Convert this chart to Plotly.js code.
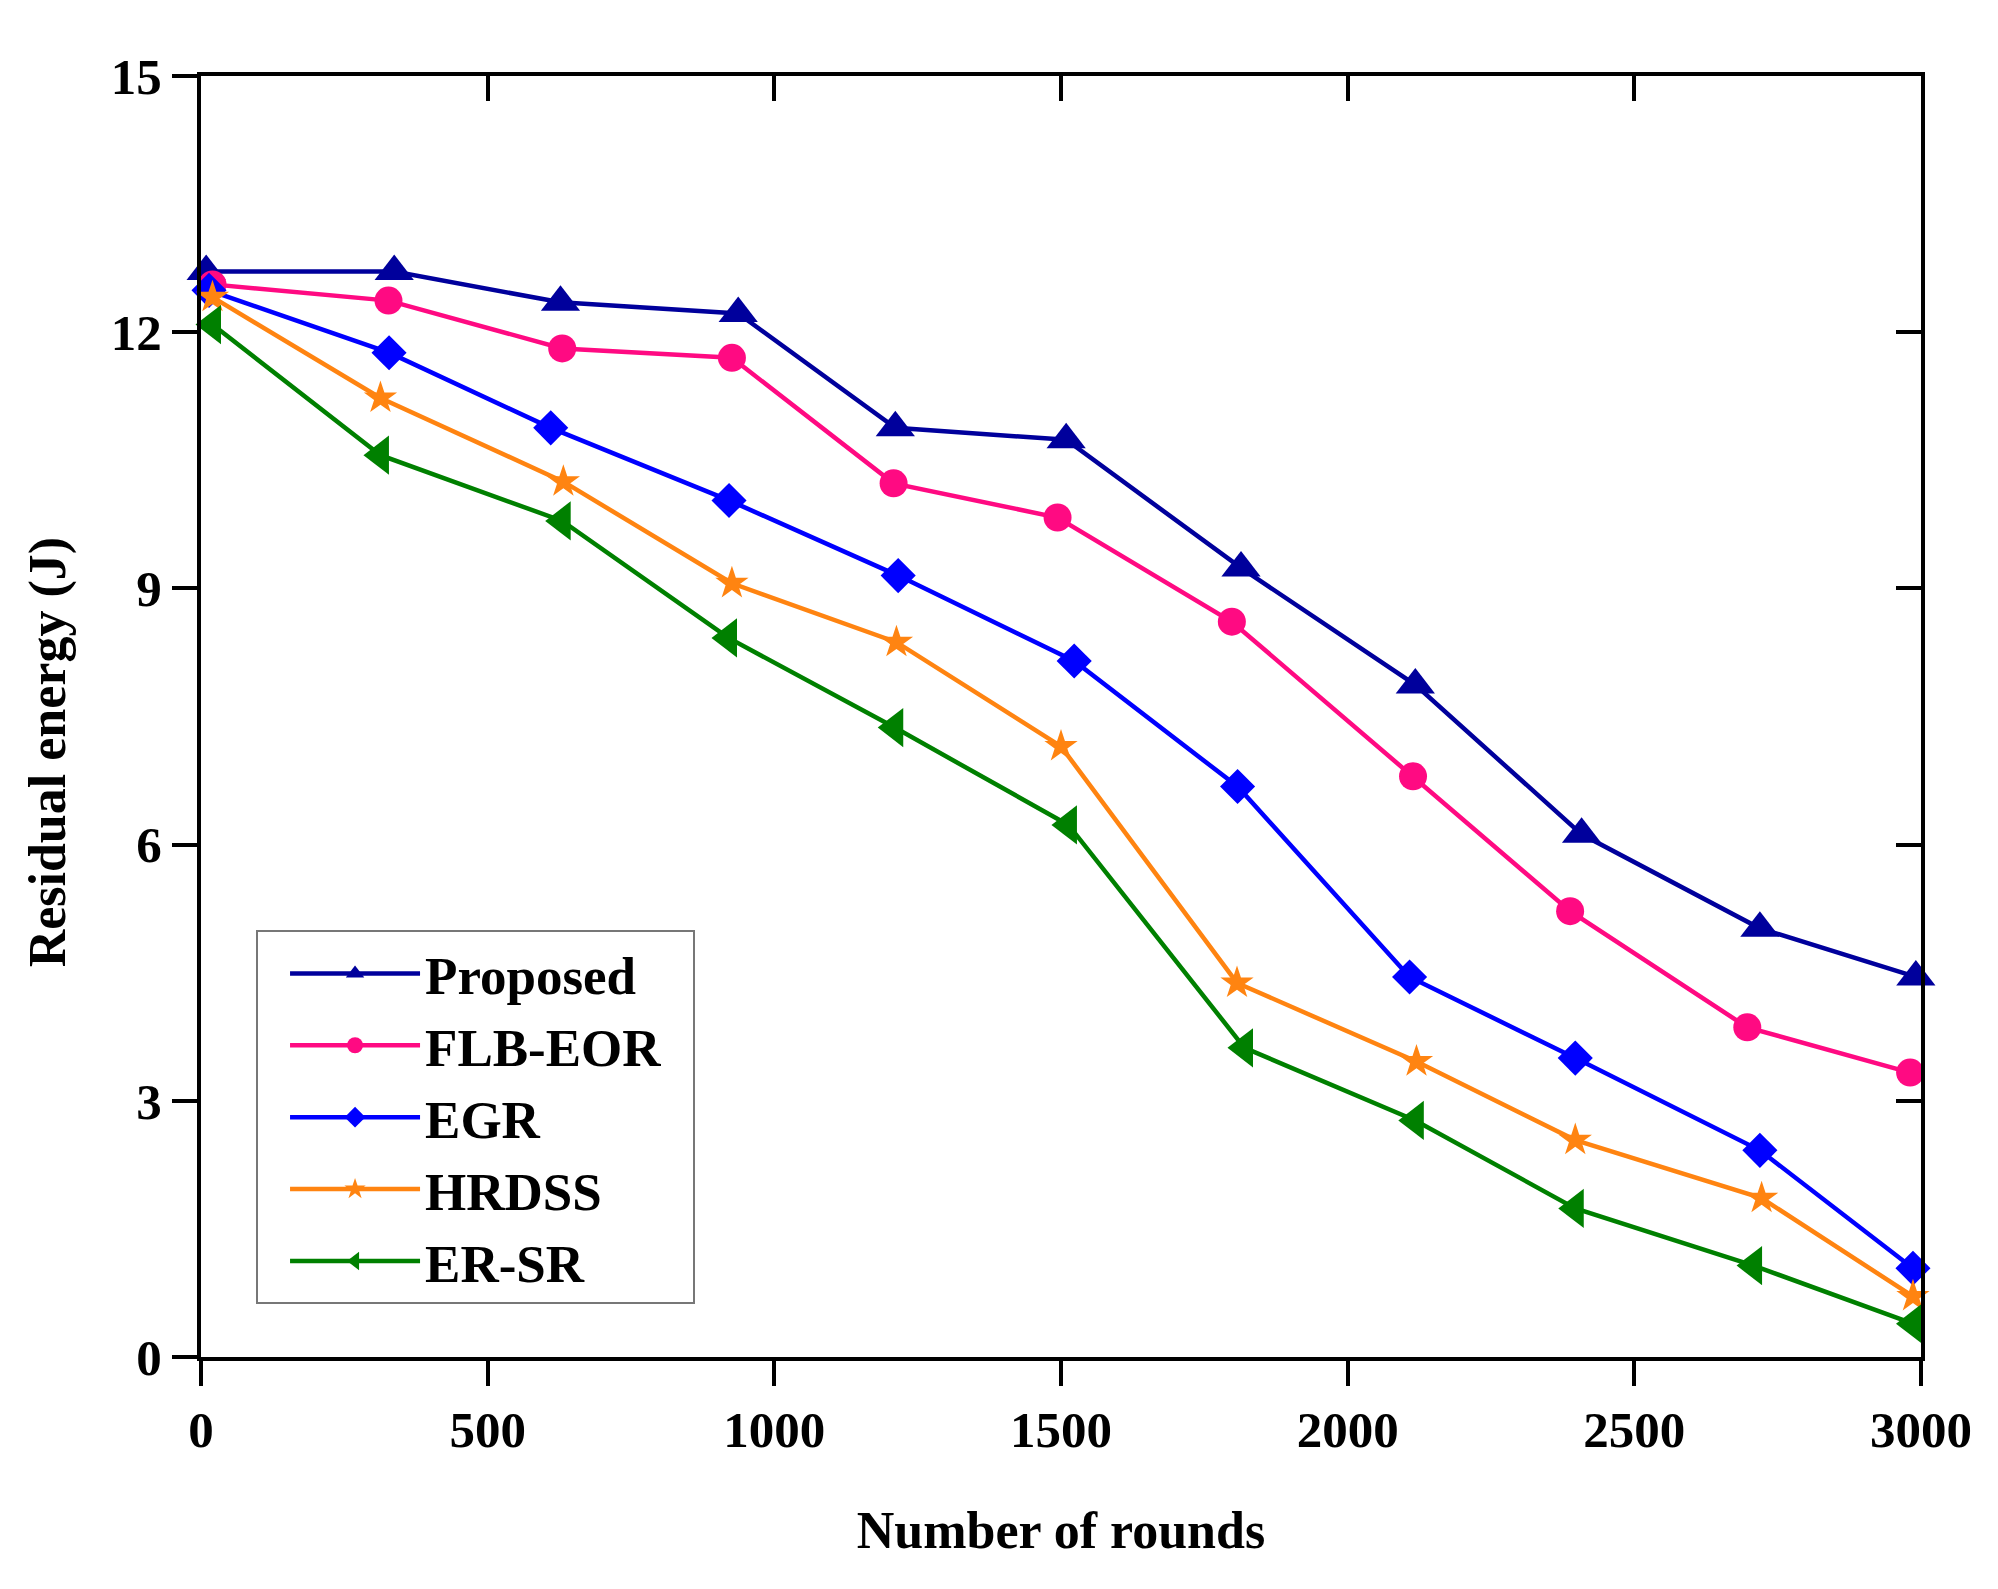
<!DOCTYPE html>
<html>
<head>
<meta charset="utf-8">
<script src="https://cdn.plot.ly/plotly-3.0.1.min.js"></script>
<style>html,body{margin:0;padding:0;background:#fff;}#chart{width:1998px;height:1589px;}</style>
</head>
<body>
<div id="chart"></div>
<script>
// Data
const seriesNames = ["Proposed", "FLB-EOR", "EGR", "HRDSS", "ER-SR"];

const proposedX = [9, 337, 627, 937, 1211, 1509, 1814, 2118, 2408, 2719, 2991];
const proposedY = [12.71, 12.71, 12.35, 12.22, 10.88, 10.74, 9.24, 7.87, 6.12, 5.02, 4.45];

const flbX = [20, 327, 630, 926, 1208, 1494, 1798, 2114, 2388, 2697, 2981];
const flbY = [12.56, 12.37, 11.81, 11.70, 10.23, 9.83, 8.61, 6.80, 5.22, 3.86, 3.33];

const egrX = [14, 328, 610, 921, 1216, 1523, 1808, 2108, 2397, 2719, 2986];
const egrY = [12.49, 11.76, 10.88, 10.03, 9.15, 8.15, 6.68, 4.45, 3.50, 2.42, 1.04];

const hrdssX = [20, 313, 632, 926, 1213, 1500, 1807, 2120, 2397, 2722, 2986];
const hrdssY = [12.41, 11.23, 10.25, 9.06, 8.37, 7.15, 4.38, 3.46, 2.54, 1.86, 0.71];

const ersrX = [20, 313, 630, 920, 1210, 1513, 1820, 2118, 2397, 2708, 2986];
const ersrY = [12.09, 10.56, 9.79, 8.42, 7.37, 6.23, 3.62, 2.77, 1.74, 1.07, 0.39];

const xTickVals = [0, 500, 1000, 1500, 2000, 2500, 3000];
const yTickVals = [0, 3, 6, 9, 12, 15];

const colors = ["#00009C", "#FF0A82", "#0000FF", "#FF8411", "#008000"];
const symbols = ["triangle-up", "circle", "diamond", "star", "triangle-left"];
const sizes = [34, 28, 27, 25, 34];

const xs = [proposedX, flbX, egrX, hrdssX, ersrX];
const ys = [proposedY, flbY, egrY, hrdssY, ersrY];

const FONT = "Liberation Serif, Times New Roman, serif";

const traces = seriesNames.map((n, i) => ({
  type: "scatter",
  mode: "lines+markers",
  name: n + "\u00a0\u00a0",
  x: xs[i],
  y: ys[i],
  cliponaxis: false,
  line: {color: colors[i], width: 4.5},
  marker: {symbol: symbols[i], size: sizes[i], color: colors[i], line: {width: 0}}
}));

// empty traces to register the frame axes (top/right)
traces.push({type: "scatter", x: [], y: [], xaxis: "x2", yaxis: "y", showlegend: false, hoverinfo: "skip"});
traces.push({type: "scatter", x: [], y: [], xaxis: "x", yaxis: "y2", showlegend: false, hoverinfo: "skip"});

const axisCommon = {
  showgrid: false, zeroline: false, showline: true,
  linecolor: "#000", linewidth: 4,
  tickcolor: "#000", tickwidth: 4, ticklen: 25,
  tickfont: {family: FONT, size: 51, color: "#000", weight: "bold"}
};

const layout = {
  width: 1998, height: 1589,
  paper_bgcolor: "#fff", plot_bgcolor: "rgba(0,0,0,0)",
  margin: {l: 201, r: 77, t: 76, b: 232},
  font: {family: FONT, color: "#000"},
  showlegend: true,
  legend: {
    x: 0.032, y: 0.333, xanchor: "left", yanchor: "top",
    bgcolor: "#fff", bordercolor: "#777", borderwidth: 2,
    font: {family: FONT, size: 53, color: "#000", weight: "bold"},
    itemwidth: 130, indentation: 27, tracegroupgap: 0
  },
  xaxis: Object.assign({}, axisCommon, {
    range: [0, 3000], tickvals: xTickVals, ticktext: xTickVals.map(String),
    ticks: "outside", anchor: "y",
    title: {text: "<b>Number of rounds</b>", font: {family: FONT, size: 52, color: "#000"}, standoff: 55}
  }),
  yaxis: Object.assign({}, axisCommon, {
    range: [0, 15], tickvals: yTickVals, ticktext: yTickVals.map(String),
    ticks: "outside", anchor: "x"
  }),
  xaxis2: Object.assign({}, axisCommon, {
    range: [0, 3000], tickvals: xTickVals, ticks: "inside", showticklabels: false,
    overlaying: "x", side: "top", anchor: "y", layer: "above traces"
  }),
  yaxis2: Object.assign({}, axisCommon, {
    range: [0, 15], tickvals: yTickVals, ticks: "inside", showticklabels: false,
    overlaying: "y", side: "right", anchor: "x", layer: "above traces"
  }),
  annotations: [{
    text: "<b>Residual energy (J)</b>",
    xref: "paper", yref: "paper", x: 0, y: 0.472,
    xshift: -153, xanchor: "center", yanchor: "middle",
    textangle: -90, showarrow: false,
    font: {family: FONT, size: 52, color: "#000"}
  }]
};

Plotly.newPlot("chart", traces, layout, {displayModeBar: false, staticPlot: true});
</script>
</body>
</html>
